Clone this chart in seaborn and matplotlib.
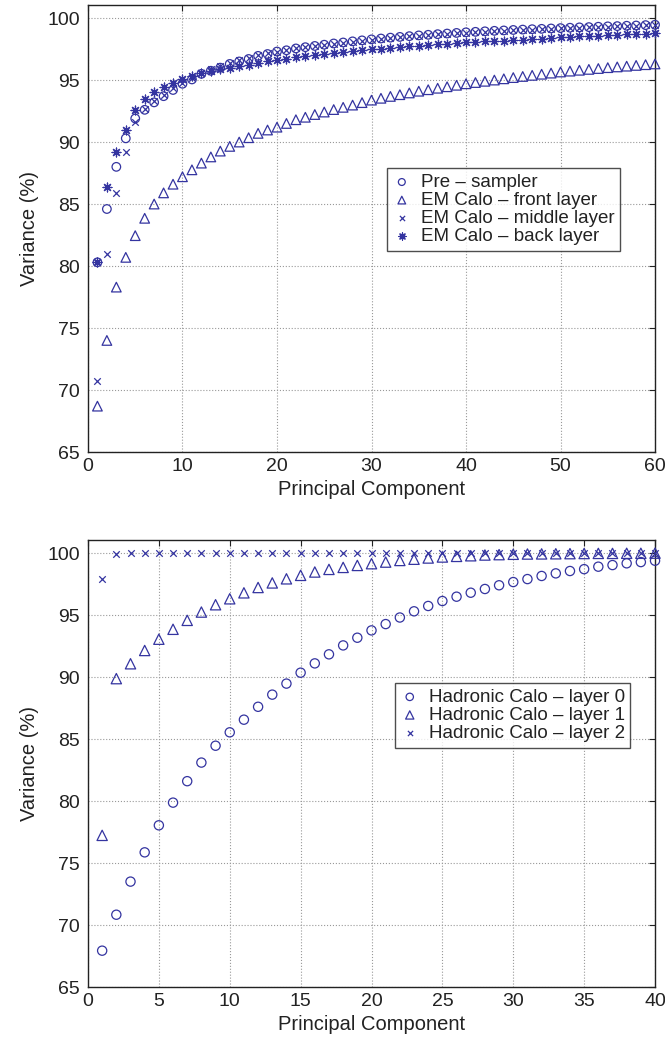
import pandas as pd
import seaborn as sns
import matplotlib
matplotlib.use("Agg")
import matplotlib.pyplot as plt

# top panel: 60 principal components, EM calorimeter + presampler
pc_top = list(range(1, 61))
pre_sampler = [80.3, 84.6, 88.0, 90.3, 91.9, 92.6, 93.2, 93.7, 94.2, 94.7,
               95.05, 95.5, 95.75, 96.0, 96.3, 96.5, 96.7, 96.95, 97.1, 97.3,
               97.4, 97.55, 97.65, 97.75, 97.85, 97.95, 98.03, 98.12, 98.2, 98.28,
               98.35, 98.42, 98.48, 98.54, 98.6, 98.65, 98.7, 98.75, 98.8, 98.85,
               98.89, 98.93, 98.97, 99.0, 99.04, 99.07, 99.1, 99.13, 99.16, 99.19,
               99.22, 99.25, 99.27, 99.3, 99.33, 99.35, 99.38, 99.4, 99.43, 99.46]
em_front = [68.7, 74.0, 78.3, 80.7, 82.45, 83.85, 85.0, 85.9, 86.6, 87.2,
            87.76, 88.3, 88.8, 89.27, 89.65, 90.0, 90.35, 90.7, 90.97, 91.2,
            91.5, 91.8, 92.0, 92.22, 92.42, 92.62, 92.8, 92.98, 93.18, 93.38,
            93.53, 93.68, 93.82, 93.96, 94.1, 94.22, 94.34, 94.46, 94.58, 94.7,
            94.8, 94.9, 95.0, 95.1, 95.2, 95.29, 95.38, 95.47, 95.56, 95.65,
            95.72, 95.79, 95.86, 95.93, 96.0, 96.06, 96.12, 96.18, 96.24, 96.3]
em_middle = [70.7, 81.0, 85.9, 89.2, 91.6, 92.7, 93.3, 93.8, 94.35, 94.8,
             95.15, 95.55, 95.9, 96.15, 96.4, 96.6, 96.8, 97.0, 97.15, 97.3,
             97.45, 97.55, 97.65, 97.74, 97.84, 97.93, 98.01, 98.1, 98.18, 98.26,
             98.33, 98.4, 98.46, 98.52, 98.58, 98.63, 98.68, 98.73, 98.78, 98.82,
             98.86, 98.9, 98.94, 98.97, 99.01, 99.04, 99.07, 99.1, 99.13, 99.16,
             99.19, 99.22, 99.24, 99.27, 99.3, 99.32, 99.35, 99.37, 99.4, 99.43]
em_back = [80.3, 86.35, 89.2, 91.0, 92.6, 93.5, 94.0, 94.45, 94.8, 95.1,
           95.35, 95.55, 95.72, 95.88, 96.0, 96.12, 96.25, 96.38, 96.5, 96.6,
           96.7, 96.82, 96.92, 97.0, 97.08, 97.16, 97.24, 97.32, 97.4, 97.47,
           97.53, 97.6, 97.66, 97.72, 97.78, 97.83, 97.88, 97.93, 97.98, 98.03,
           98.07, 98.11, 98.15, 98.19, 98.23, 98.27, 98.3, 98.34, 98.37, 98.45,
           98.49, 98.52, 98.56, 98.59, 98.62, 98.65, 98.68, 98.71, 98.75, 98.78]

# bottom panel: 40 principal components, hadronic calorimeter
pc_bottom = list(range(1, 41))
had_layer0 = [67.93, 70.83, 73.5, 75.86, 78.04, 79.87, 81.6, 83.1, 84.46, 85.54,
              86.56, 87.6, 88.58, 89.47, 90.35, 91.1, 91.83, 92.55, 93.17, 93.76,
              94.27, 94.8, 95.3, 95.73, 96.13, 96.48, 96.8, 97.1, 97.4, 97.66,
              97.9, 98.15, 98.36, 98.55, 98.7, 98.9, 99.03, 99.17, 99.27, 99.38]
had_layer1 = [77.23, 89.87, 91.07, 92.14, 93.05, 93.85, 94.57, 95.24, 95.83, 96.31,
              96.79, 97.22, 97.59, 97.92, 98.2, 98.47, 98.68, 98.84, 99.0, 99.14,
              99.27, 99.4, 99.5, 99.6, 99.68, 99.73, 99.78, 99.84, 99.87, 99.9,
              99.92, 99.93, 99.94, 99.95, 99.96, 99.97, 99.97, 99.98, 99.98, 99.99]
had_layer2 = [97.9, 99.9, 99.97, 99.98, 99.99, 100.0, 100.0, 100.0, 100.0, 100.0,
              100.0, 100.0, 100.0, 100.0, 100.0, 100.0, 100.0, 100.0, 100.0, 100.0,
              100.0, 100.0, 100.0, 100.0, 100.0, 100.0, 100.0, 100.0, 100.0, 100.0,
              100.0, 100.0, 100.0, 100.0, 100.0, 100.0, 100.0, 100.0, 100.0, 100.0]

top_labels = ['Pre \u2013 sampler', 'EM Calo \u2013 front layer',
              'EM Calo \u2013 middle layer', 'EM Calo \u2013 back layer']
bottom_labels = ['Hadronic Calo \u2013 layer 0', 'Hadronic Calo \u2013 layer 1',
                 'Hadronic Calo \u2013 layer 2']

sns.set_theme(style='white')
plt.rcParams['font.family'] = ['Liberation Sans', 'DejaVu Sans']
plt.rcParams['text.color'] = '#222222'
plt.rcParams['axes.labelcolor'] = '#222222'
plt.rcParams['xtick.color'] = '#222222'
plt.rcParams['ytick.color'] = '#222222'

blue = '#3434a0'
asterisk = (8, 2, 0)

fig = plt.figure(figsize=(6.65, 10.5), dpi=100)
ax1 = fig.add_axes([0.1323, 0.5695, 0.8527, 0.4257])
ax2 = fig.add_axes([0.1323, 0.06, 0.8527, 0.4257])


def draw(ax, x, y, marker, label, size):
    if marker in ('o', '^'):
        sns.scatterplot(x=x, y=y, ax=ax, marker=marker, s=size, facecolor='none',
                        edgecolor=blue, linewidth=0.9, label=label, zorder=3,
                        clip_on=False)
    else:
        sns.scatterplot(x=x, y=y, ax=ax, marker=marker, s=size, color=blue,
                        edgecolor=None, linewidth=0.9, label=label, zorder=3,
                        clip_on=False)


draw(ax1, pc_top, pre_sampler, 'o', top_labels[0], 38)
draw(ax1, pc_top, em_front, '^', top_labels[1], 48)
draw(ax1, pc_top, em_middle, 'x', top_labels[2], 22)
draw(ax1, pc_top, em_back, asterisk, top_labels[3], 40)

draw(ax2, pc_bottom, had_layer0, 'o', bottom_labels[0], 44)
draw(ax2, pc_bottom, had_layer1, '^', bottom_labels[1], 55)
draw(ax2, pc_bottom, had_layer2, 'x', bottom_labels[2], 22)

for ax, xmax, xstep, loc in [(ax1, 60, 10, (0.527, 0.635)), (ax2, 40, 5, (0.541, 0.68))]:
    ax.set_xlim(0, xmax)
    ax.set_ylim(65, 101.05)
    ax.set_xticks(range(0, xmax + 1, xstep))
    ax.set_yticks(range(65, 101, 5))
    ax.grid(True, linestyle=':', color='#999999', linewidth=0.8)
    ax.tick_params(direction='in', length=4, width=0.8, top=True, right=True,
                   labelsize=14)
    ax.tick_params(axis='x', pad=4)
    ax.tick_params(axis='y', pad=6)
    for sp in ax.spines.values():
        sp.set_color('#222222')
        sp.set_linewidth(1.0)
    ax.set_xlabel('Principal Component', fontsize=14.5, labelpad=4)
    ax.set_ylabel('Variance (%)', fontsize=14.5, labelpad=6)
    leg = ax.legend(loc='upper left', bbox_to_anchor=loc, fontsize=13.5,
                    frameon=True, fancybox=False, edgecolor='#222222',
                    handlelength=1.0, handletextpad=0.5, borderpad=0.3,
                    labelspacing=0.05, borderaxespad=0, markerscale=0.8)
    leg.get_frame().set_linewidth(1.0)

fig.savefig('out.png', dpi=100)
